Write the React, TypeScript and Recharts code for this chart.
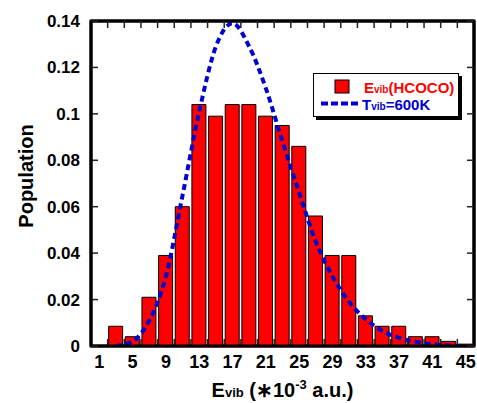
import { ComposedChart, Bar, Line, XAxis, YAxis, ReferenceArea } from 'recharts';

// energy bins (units of 1e-3 a.u.)
const energy = [3, 5, 7, 9, 11, 13, 15, 17, 19, 21, 23, 25, 27, 29, 31, 33, 35, 37, 39, 41, 43, 45];
// histogram of E_vib(HCOCO)
const population = [0.0085, 0.004, 0.021, 0.039, 0.06, 0.104, 0.099, 0.104, 0.104, 0.099, 0.095, 0.086, 0.056, 0.039, 0.039, 0.013, 0.0085, 0.0085, 0.004, 0.004, 0.002, 0.0008];
// T_vib = 600K distribution
const boltzmann = [0, 0.002, 0.011, 0.03, 0.065, 0.101, 0.129, 0.139, 0.129, 0.111, 0.088, 0.066, 0.045, 0.03, 0.019, 0.0115, 0.0065, 0.0035, 0.0018, 0.0007, 0.0002, 0];

const xTicks = [1, 5, 9, 13, 17, 21, 25, 29, 33, 37, 41, 45];
const xMinorTicks = [2, 4, 6, 8, 10, 12, 14, 16, 18, 20, 22, 24, 26, 28, 30, 32, 34, 36, 38, 40, 42, 44];
const yTicks = [0, 0.02, 0.04, 0.06, 0.08, 0.1, 0.12, 0.14];

const table = energy.map((x, i) => ({ x, pop: population[i], fit: boltzmann[i] }));

const FONT = '"Liberation Sans", Arial, Helvetica, sans-serif';
const RED = '#ff0000';
const BLUE = '#0000d0';
const frame = { stroke: '#000', strokeWidth: 3 };
const minorLine = { stroke: '#222', strokeWidth: 1.5 };

function XTitle(props: any) {
  const vb = props.viewBox || {};
  const cx = vb.x + vb.width / 2;
  const y = vb.y + 51;
  return (
    <text x={cx} y={y} textAnchor="middle" fontFamily={FONT} fontWeight="bold" fill="#000">
      <tspan fontSize={20}>E</tspan>
      <tspan fontSize={13}>vib</tspan>
      <tspan fontSize={20}> (∗10</tspan>
      <tspan fontSize={13} dy={-8}>-3</tspan>
      <tspan fontSize={20} dy={8}> a.u.)</tspan>
    </text>
  );
}

function YTitle() {
  return (
    <text x={0} y={0} transform="translate(26,176) rotate(-90)" textAnchor="middle" dominantBaseline="central"
      fontFamily={FONT} fontWeight="bold" fontSize={20} fill="#000">
      Population
    </text>
  );
}

function LegendBox() {
  return (
    <div style={{ position: 'absolute', left: 313, top: 73, width: 144, height: 42, background: '#fff', border: '1.5px solid #000', boxShadow: '3px 3px 0 #000' }}>
      <svg width={144} height={42} style={{ display: 'block' }}>
        <rect x={21} y={6} width={14} height={13} fill={RED} stroke="#000" strokeWidth={1} />
        <text x={50} y={19} fontFamily={FONT} fontWeight="bold" fill={RED}>
          <tspan fontSize={15}>E</tspan>
          <tspan fontSize={10}>vib</tspan>
          <tspan fontSize={15}>(HCOCO)</tspan>
        </text>
        <line x1={7} y1={29.5} x2={47} y2={29.5} stroke={BLUE} strokeWidth={4} strokeDasharray="7 3" />
        <text x={48} y={35.5} fontFamily={FONT} fontWeight="bold" fill={BLUE}>
          <tspan fontSize={15}>T</tspan>
          <tspan fontSize={10}>vib</tspan>
          <tspan fontSize={15}>=600K</tspan>
        </text>
      </svg>
    </div>
  );
}

export default function App() {
  return (
    <div style={{ position: 'relative', width: 477, height: 403, overflow: 'hidden' }}>
      {/* drop the default body margin so the chart spans the whole window */}
      <style>{'body{margin:0}'}</style>
      <ComposedChart width={477} height={403} data={table} margin={{ top: 21, right: 3, bottom: 0, left: 0 }}>
        <XAxis xAxisId="minor" dataKey="x" type="number" domain={[0, 46]} allowDataOverflow ticks={xMinorTicks} interval={0}
          mirror height={1} axisLine={false} tick={() => <g />} tickSize={7} tickLine={minorLine} />
        <XAxis xAxisId="x" dataKey="x" type="number" domain={[0, 46]} allowDataOverflow ticks={xTicks} interval={0}
          height={57} axisLine={frame} tickLine={false} tickSize={6} tickMargin={3}
          tick={{ fontFamily: FONT, fontWeight: 'bold', fontSize: 18, fill: '#000' }}
          label={{ content: (p: any) => <XTitle {...p} /> }} />
        <XAxis xAxisId="top" dataKey="x" type="number" orientation="top" domain={[0, 46]} allowDataOverflow ticks={xMinorTicks} interval={0}
          mirror height={1} axisLine={frame} tick={() => <g />} tickSize={7} tickLine={minorLine} />
        <YAxis yAxisId="minor" type="number" domain={[0, 0.14]} allowDataOverflow ticks={yTicks} interval={0}
          mirror width={1} axisLine={false} tick={() => <g />} tickSize={7} tickLine={minorLine} />
        <YAxis yAxisId="y" type="number" domain={[0, 0.14]} allowDataOverflow ticks={yTicks} interval={0}
          width={91} axisLine={frame} tickLine={false} tickSize={6} tickMargin={5}
          tick={{ fontFamily: FONT, fontWeight: 'bold', fontSize: 17, fill: '#000' }}
          tickFormatter={(v: number) => String(v)}
          label={{ content: () => <YTitle /> }} />
        <YAxis yAxisId="right" type="number" orientation="right" domain={[0, 0.14]} allowDataOverflow ticks={yTicks} interval={0}
          mirror width={1} axisLine={frame} tick={() => <g />} tickSize={7} tickLine={minorLine} />
        {/* invisible carriers so the frame axes get drawn */}
        <Line xAxisId="minor" yAxisId="minor" dataKey="fit" stroke="none" dot={false} activeDot={false} isAnimationActive={false} />
        <Line xAxisId="top" yAxisId="right" dataKey="fit" stroke="none" dot={false} activeDot={false} isAnimationActive={false} />
        <ReferenceArea xAxisId="x" yAxisId="y" x1={0} x2={46} y1={0} y2={0.14} fill="none" stroke="#000" strokeWidth={3} ifOverflow="visible" />
        <Bar xAxisId="x" yAxisId="y" dataKey="pop" barSize={14} fill={RED} stroke="#000" strokeWidth={1} isAnimationActive={false} />
        <Line xAxisId="x" yAxisId="y" dataKey="fit" type="monotone" stroke={BLUE} strokeWidth={4} strokeDasharray="6 4"
          dot={false} activeDot={false} isAnimationActive={false} />
      </ComposedChart>
      <LegendBox />
    </div>
  );
}
